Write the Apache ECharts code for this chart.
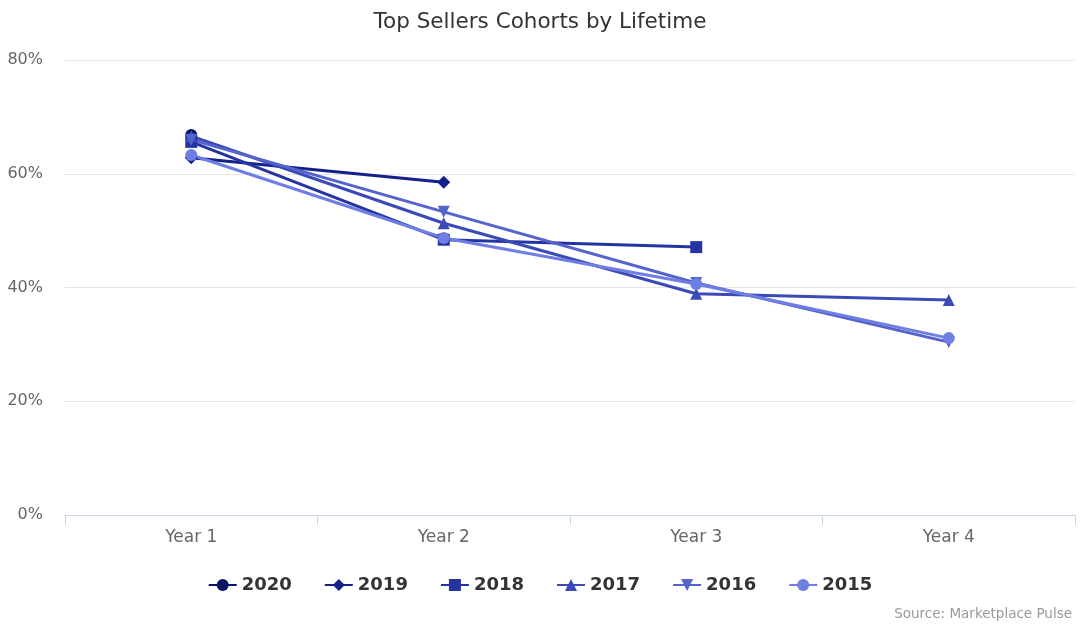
<!DOCTYPE html>
<html><head><meta charset="utf-8">
<script src="https://cdn.jsdelivr.net/npm/echarts@6/dist/echarts.min.js"></script>
<style>html,body{margin:0;padding:0;background:#fff}#c{width:1080px;height:627px}</style>
</head><body><div id="c"></div>
<script>
const categories = ['Year 1', 'Year 2', 'Year 3', 'Year 4'];
const yTicks = [0, 20, 40, 60, 80];
const cohorts = ['2020', '2019', '2018', '2017', '2016', '2015'];
const v2020 = [66.8, null, null, null];
const v2019 = [62.8, 58.5, null, null];
const v2018 = [65.6, 48.4, 47.1, null];
const v2017 = [66.6, 51.3, 38.9, 37.8];
const v2016 = [66.0, 53.3, 40.8, 30.4];
const v2015 = [63.3, 48.7, 40.6, 31.1];
const values = [v2020, v2019, v2018, v2017, v2016, v2015];
const colors = ['#0b1463', '#14218a', '#2534a3', '#3c4ab8', '#5563cc', '#6e7ee2'];
const symbols = ['circle', 'diamond', 'rect', 'triangle', 'path://M0,0 L10,0 L5,10 Z', 'circle'];

const chart = echarts.init(document.getElementById('c'));
chart.setOption({
  animation: false,
  color: colors,
  title: {text: 'Top Sellers Cohorts by Lifetime', left: 'center', top: 6,
    textStyle: {fontFamily: 'DejaVu Sans', fontSize: 21.5, fontWeight: 'normal', color: '#333'}},
  graphic: [{type: 'text', right: 8, bottom: 6,
    style: {text: 'Source: Marketplace Pulse', font: '13.5px "DejaVu Sans"', fill: '#999'}}],
  legend: {bottom: 28, left: 'center', itemGap: 32, itemWidth: 28, itemHeight: 15,
    textStyle: {fontFamily: 'DejaVu Sans', fontSize: 18, fontWeight: 'bold', color: '#333'},
    data: cohorts},
  grid: {left: 65, right: 5, top: 60, bottom: 112},
  xAxis: {type: 'category', data: categories, boundaryGap: true,
    axisLine: {lineStyle: {color: '#ccd6eb'}},
    axisTick: {show: true, length: 10, lineStyle: {color: '#ccd6eb'}},
    axisLabel: {fontFamily: 'DejaVu Sans', fontSize: 17, color: '#666', margin: 14}},
  yAxis: {type: 'value', min: yTicks[0], max: yTicks[yTicks.length - 1], interval: 20,
    axisLine: {show: false}, axisTick: {show: false},
    splitLine: {lineStyle: {color: '#e6e6e6'}},
    axisLabel: {fontFamily: 'DejaVu Sans', fontSize: 16, color: '#666', margin: 22,
      formatter: v => v + '%'}},
  series: cohorts.map((name, i) => ({
    name: name, type: 'line', data: values[i], connectNulls: false,
    symbol: symbols[i], symbolSize: i === 1 ? 13 : 12, showSymbol: true,
    lineStyle: {width: 3, color: colors[i]},
    itemStyle: {color: colors[i]}
  }))
});
</script></body></html>
